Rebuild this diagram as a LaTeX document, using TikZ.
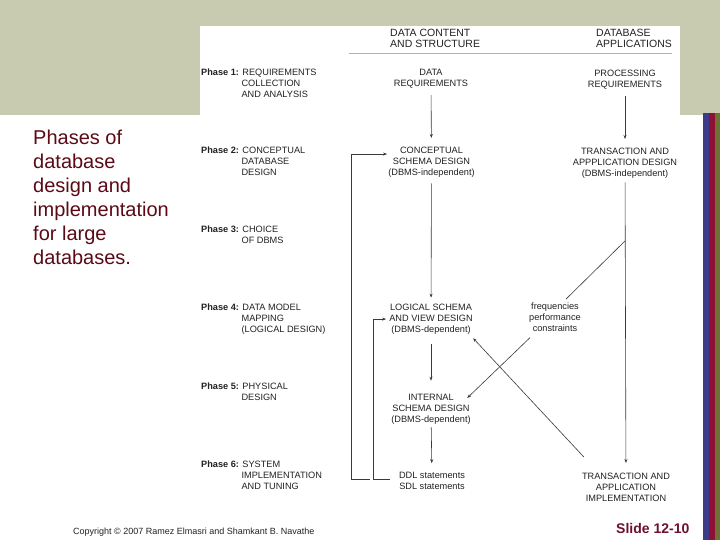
\documentclass[tikz,border=0pt]{standalone}
\usepackage{fontspec}
\setmainfont{Liberation Sans}
\usetikzlibrary{arrows.meta,calc}
\definecolor{band}{HTML}{C8CBB0}
\definecolor{titlered}{HTML}{5C0A16}
\definecolor{slidered}{HTML}{6E1030}
\definecolor{barblue}{HTML}{3C3C88}
\definecolor{barred}{HTML}{8E1038}
\definecolor{barolive}{HTML}{6E7232}
\definecolor{ink}{HTML}{222222}
\definecolor{wire}{HTML}{3A3A3A}
\newcommand{\phind}{\phantom{\textbf{Phase 1:}}\ }
\begin{document}
\begin{tikzpicture}[x=1pt,y=-1pt,
  lbl/.style={inner sep=0pt, align=center, anchor=north, text=ink, font=\fontsize{9.2}{11}\selectfont},
  phase/.style={inner sep=0pt, align=left, anchor=north west, text=ink, font=\fontsize{9.2}{11}\selectfont},
  hdr/.style={inner sep=0pt, align=left, anchor=north west, text=ink, font=\fontsize{10.5}{11}\selectfont},
  wirel/.style={draw=wire, line width=0.6pt},
  arr/.style={wirel, -{Stealth[length=4pt,width=3pt]}},
]
\useasboundingbox (0,0) rectangle (720,540);
\fill[white] (0,0) rectangle (720,540);
\fill[band] (0,0) rectangle (720,115);
\fill[white] (200,26) rectangle (680,115);
\fill[barblue] (703,113) rectangle (709,540);
\fill[barred] (709,113) rectangle (715,540);
\fill[barolive] (715,113) rectangle (720,540);

% headers
\node[hdr] (hdc) at (390,29.2) {DATA CONTENT\\AND STRUCTURE};
\node[hdr] (hda) at (596,29.2) {DATABASE\\APPLICATIONS};
\draw[draw=gray!60, line width=0.8pt] (349,53) -- (672,53);

% phases
\node[phase] (p1) at (201,68.7) {\textbf{Phase 1:} REQUIREMENTS\\\phind COLLECTION\\\phind AND ANALYSIS};
\node[phase] (p2) at (201,146.7) {\textbf{Phase 2:} CONCEPTUAL\\\phind DATABASE\\\phind DESIGN};
\node[phase] (p3) at (201,225.7) {\textbf{Phase 3:} CHOICE\\\phind OF DBMS};
\node[phase] (p4) at (201,303.7) {\textbf{Phase 4:} DATA MODEL\\\phind MAPPING\\\phind (LOGICAL DESIGN)};
\node[phase] (p5) at (201,382.7) {\textbf{Phase 5:} PHYSICAL\\\phind DESIGN};
\node[phase] (p6) at (201,460.7) {\textbf{Phase 6:} SYSTEM\\\phind IMPLEMENTATION\\\phind AND TUNING};

% central column
\node[lbl] (dreq) at (431,68.7) {DATA\\REQUIREMENTS};
\node[lbl] (cschema) at (431.5,146.7) {CONCEPTUAL\\SCHEMA DESIGN\\(DBMS-independent)};
\node[lbl] (lschema) at (431,303.7) {LOGICAL SCHEMA\\AND VIEW DESIGN\\(DBMS-dependent)};
\node[lbl] (ischema) at (431,393.7) {INTERNAL\\SCHEMA DESIGN\\(DBMS-dependent)};
\node[lbl] (ddl) at (432,471.7) {DDL statements\\SDL statements};

% right column
\node[lbl] (preq) at (625,69.7) {PROCESSING\\REQUIREMENTS};
\node[lbl] (tdesign) at (625,147.7) {TRANSACTION AND\\APPPLICATION DESIGN\\(DBMS-independent)};
\node[lbl] (timpl) at (626,472.7) {TRANSACTION AND\\APPLICATION\\IMPLEMENTATION};
\node[lbl] (freq) at (555,302.8) {frequencies\\performance\\constraints};

% vertical flows
\draw[arr, shorten <=7pt, shorten >=8.7pt] (dreq) -- (cschema);
\draw[arr, shorten <=6pt, shorten >=6pt] (cschema) -- (lschema);
\draw[arr, shorten <=10pt, shorten >=13pt] (lschema) -- (ischema);
\draw[arr, shorten <=3pt, shorten >=8.5pt] (ischema) -- (ddl);
\draw[arr, shorten <=6.5pt, shorten >=8.7pt] (preq) -- (tdesign);
\draw[arr, shorten <=4pt, shorten >=9.7pt] (tdesign) -- (timpl);

% feedback loops
\coordinate (fbin) at ([shift={(-9pt,1.5pt)}]ddl.west);
\coordinate (fbout) at ([shift={(-29pt,1.5pt)}]ddl.west);
\draw[arr] (fbin) -- ++(-17,0) |- ([xshift=-3pt]lschema.west);
\draw[arr] (fbout) -- ++(-19,0) |- ([shift={(-1pt,8pt)}]cschema.west);

% diagonals
\coordinate (dj) at (625,241);
\draw[wirel] (dj) -- ([shift={(11pt,3.7pt)}]freq.north);
\draw[arr] ([shift={(-25pt,-5.7pt)}]freq.south) -- ([shift={(-3.6pt,-4.3pt)}]ischema.north east);
\draw[arr] ([shift={(2pt,15.7pt)}]timpl.north west) -- ([shift={(0.3pt,-3.8pt)}]lschema.south east);

% left title and footer
\node[anchor=north west, inner sep=0pt, align=left, text=titlered, font=\fontsize{20}{24}\selectfont] (title) at (33,129.5) {Phases of\\database\\design and\\implementation\\for large\\databases.};
\node[anchor=base west, inner sep=0pt, text=ink, font=\fontsize{9}{10}\selectfont] (copy) at (73,534) {Copyright © 2007 Ramez Elmasri and Shamkant B. Navathe};
\node[anchor=base west, inner sep=0pt, text=slidered, font=\bfseries\fontsize{14}{16}\selectfont] (slide) at (616,533) {Slide 12-10};
\end{tikzpicture}
\end{document}
